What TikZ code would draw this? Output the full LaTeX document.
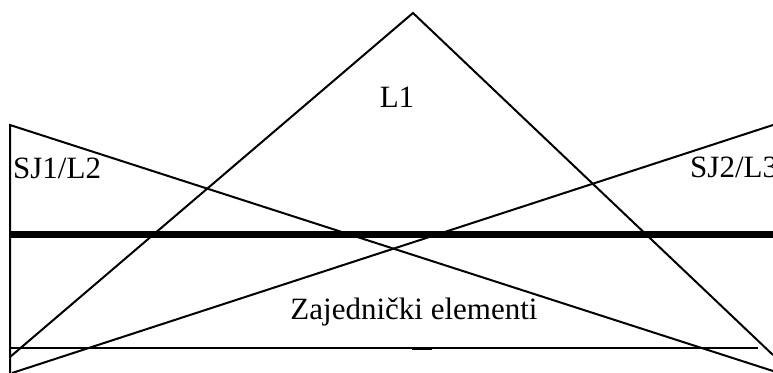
\documentclass[tikz,border=0pt]{standalone}
\usepackage{fontspec}
\setmainfont{Liberation Serif}
\usetikzlibrary{positioning}

\begin{document}
\begin{tikzpicture}[
        x=1pt, y=-1pt,
        thin_line/.style={draw=black, line width=2pt},
        thick_line/.style={draw=black, line width=7pt},
        set_label/.style={inner sep=0pt, font=\fontsize{31}{37}\selectfont}
    ]
        \useasboundingbox (0,0) rectangle (773,372);
        \clip (0,0) rectangle (773,372);

        % Corners
        \coordinate (apex) at (413,13);
        \coordinate (l1_left) at (10,357);
        \coordinate (l1_right) at (773,355);
        \coordinate (sj1_top) at (10,125);
        \coordinate (sj1_bottom) at (10,380);
        \coordinate (sj1_tip) at (773,371);
        \coordinate (sj2_tip) at (12,373);
        \coordinate (sj2_top) at (773,125);
        \coordinate (split_left) at (10,234);
        \coordinate (split_right) at (773,234);
        \coordinate (base_left) at (10,348);
        \coordinate (base_right) at (758,348);
        \coordinate (tick_left) at (412,348.8);
        \coordinate (tick_right) at (432,348.8);

        % Labels
        \node (l1) [set_label, anchor=base] at (397,107) {L1};
        \node (sj1) [set_label, anchor=base west] at (13,178) {SJ1/L2};
        \node (sj2) [set_label, anchor=base west] at (690,177) {SJ2/L3};
        \node (common) [set_label, anchor=base] at (414,319) {Zajednički elementi};

        % Lines
        \draw [thin_line] (l1_left) -- (apex) -- (l1_right);
        \draw [thin_line] (sj1_bottom) -- (sj1_top) -- (sj1_tip);
        \draw [thin_line] (sj2_tip) -- (sj2_top);
        \draw [thick_line] (split_left) -- (split_right);
        \draw [thin_line] (base_left) -- (base_right);
        \draw [thin_line] (tick_left) -- (tick_right);
    \end{tikzpicture}
\end{document}
